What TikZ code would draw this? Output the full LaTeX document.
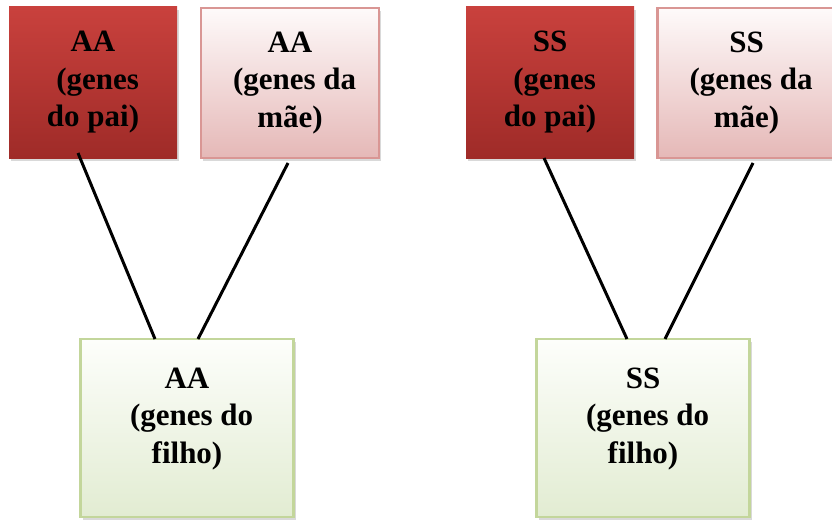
\documentclass[tikz,border=0pt]{standalone}
\usepackage{fontspec}
\setmainfont{Liberation Serif}
\usepackage{xcolor}
\usetikzlibrary{shadows}

\definecolor{paiTop}{HTML}{C9413D}
\definecolor{paiBot}{HTML}{9F2B28}
\definecolor{maeTop}{HTML}{FEFAFA}
\definecolor{maeBot}{HTML}{E5B8B7}
\definecolor{maeLine}{HTML}{D99694}
\definecolor{filhoTop}{HTML}{FDFEFB}
\definecolor{filhoBot}{HTML}{E2ECD2}
\definecolor{filhoLine}{HTML}{C3D69B}

\begin{document}
\begin{tikzpicture}[x=1pt,y=-1pt,
		genes/.style={rectangle,inner sep=0pt,outer sep=0pt,align=center,
			font=\bfseries\fontsize{31}{37.5}\selectfont},
		caixa/.style={genes,drop shadow={shadow xshift=2pt,shadow yshift=-3pt,opacity=0.3}},
		pai/.style={caixa,draw=none,top color=paiTop,bottom color=paiBot,
			minimum width=168pt,minimum height=151pt},
		mae/.style={caixa,draw=maeLine,line width=2.5pt,top color=maeTop,bottom color=maeBot,
			minimum width=178pt,minimum height=150pt},
		filho/.style={caixa,draw=filhoLine,line width=2.5pt,top color=filhoTop,bottom color=filhoBot,
			minimum width=213pt,minimum height=178pt}]
			\useasboundingbox (0,0) rectangle (832,527);

			\node[pai] (P1) at (93,82.5) {AA\\\hspace*{.3em}(genes\\do pai)};
			\node[mae] (M1) at (290,83) {AA\\\hspace*{.3em}(genes da\\m\~ae)};
			\node[pai] (P2) at (550,82.5) {SS\\\hspace*{.3em}(genes\\do pai)};
			\node[mae] (M2) at (746.5,83) {SS\\\hspace*{.3em}(genes da\\m\~ae)};

			\node[filho] (F1) at (187,428) {};
			\node[filho] (F2) at (643,428) {};
			\node[genes] (F1t) at ([yshift=9pt]F1.center) {AA\\\hspace*{.3em}(genes do\\filho)};
			\node[genes] (F2t) at ([yshift=9pt]F2.center) {SS\\\hspace*{.3em}(genes do\\filho)};

			\begin{scope}[every edge/.style={draw=black,line width=3pt}]
			    \path [-] ([xshift=-15pt,yshift=5pt]P1.south) edge ([xshift=-32pt]F1.north);
			    \path [-] ([xshift=-2pt,yshift=-5pt]M1.south) edge ([xshift=11pt]F1.north);
			    \path [-] ([xshift=-6pt]P2.south) edge ([xshift=-16pt]F2.north);
			    \path [-] ([xshift=6.5pt,yshift=-5pt]M2.south) edge ([xshift=22pt]F2.north);
			\end{scope}
\end{tikzpicture}
\end{document}
